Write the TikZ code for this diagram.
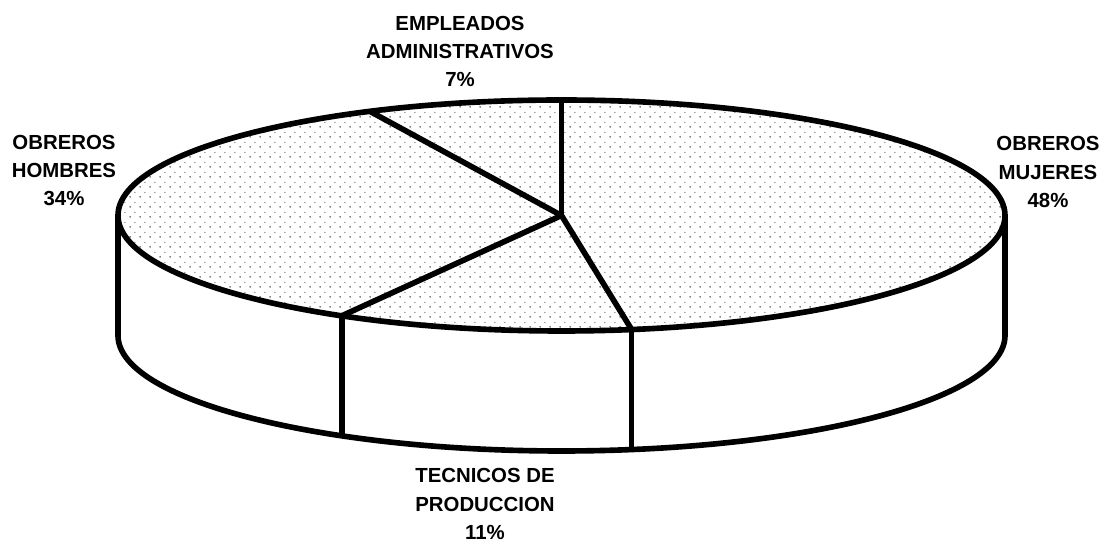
\documentclass[tikz,border=0pt]{standalone}
\usepackage{fontspec}
\setmainfont{Liberation Sans}
\usetikzlibrary{patterns.meta}
\tikzdeclarepattern{
  name=stipple, type=uncolored,
  bounding box={(0pt,0pt) and (2.8pt,2.8pt)},
  tile size={(2.8pt,2.8pt)},
  code={\fill (0.6pt,0.6pt) circle (0.25pt); \fill (2pt,1.9pt) circle (0.18pt);}
}
\tikzset{
  pielabel/.style={font=\bfseries\fontsize{5.8}{8}\selectfont, align=center, inner sep=0pt},
  pieline/.style={line width=1.6pt, line join=round}
}
\begin{document}
\begin{tikzpicture}[x=0.1mm,y=0.1mm]
\useasboundingbox (0,0) rectangle (1109,545);
\def\rx{443.5}
\def\ry{115.5}
\def\pieh{120}
\coordinate (c) at (561.5,329.5);
% side of the disc
\draw[pieline, fill=white] (118,329.5) -- (118,209.5)
  arc[start angle=180, end angle=360, x radius=\rx, y radius=\ry] -- (1005,329.5);
% top face
\draw[pieline, pattern=stipple, pattern color=black!65] (c) ellipse [x radius=\rx, y radius=\ry];
% slice borders
\foreach \a/\n in {90/p1,115.6/p2,240.3/p3,279.1/p4}{
  \coordinate (\n) at ({561.5+\rx*cos(\a)},{329.5+\ry*sin(\a)});
  \draw[pieline] (c) -- (\n);
}
\draw[pieline] (p3) -- ++(0,-\pieh);
\draw[pieline] (p4) -- ++(0,-\pieh);
% labels
\node[pielabel] (empleados) at (460,493.5) {EMPLEADOS\\ADMINISTRATIVOS\\7\%};
\node[pielabel] (hombres) at (64,374.5) {OBREROS\\HOMBRES\\34\%};
\node[pielabel] (mujeres) at (1048,373) {OBREROS\\MUJERES\\48\%};
\node[pielabel] (tecnicos) at (485,41) {TECNICOS DE\\PRODUCCION\\11\%};
\end{tikzpicture}
\end{document}
